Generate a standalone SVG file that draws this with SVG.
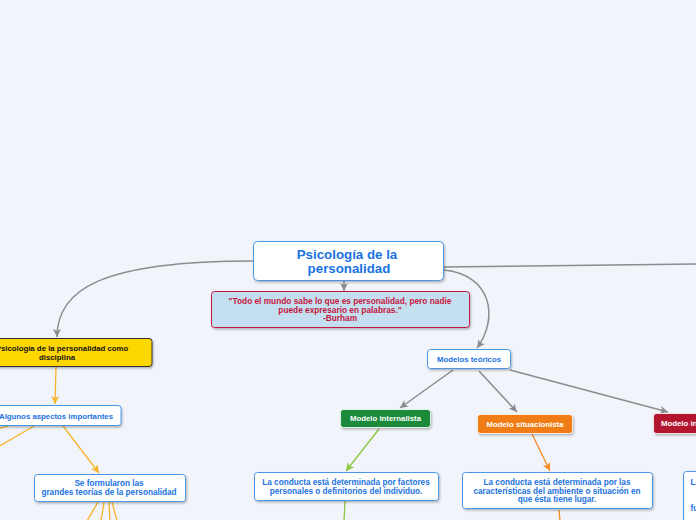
<svg xmlns="http://www.w3.org/2000/svg" width="696" height="520" viewBox="0 0 696 520">
<defs>
<filter id="sh" x="-10%" y="-20%" width="130%" height="160%">
<feDropShadow dx="1" dy="1.5" stdDeviation="0.8" flood-color="#000" flood-opacity="0.28"/>
</filter>
<marker id="ag" markerUnits="userSpaceOnUse" markerWidth="10" markerHeight="10" viewBox="0 0 10 10" refX="9" refY="5" orient="auto"><path d="M1,1 L9,5 L1,9 L3,5 z" fill="#8c8c8c"/></marker>
<marker id="ay" markerUnits="userSpaceOnUse" markerWidth="10" markerHeight="10" viewBox="0 0 10 10" refX="9" refY="5" orient="auto"><path d="M1,1 L9,5 L1,9 L3,5 z" fill="#f7b52c"/></marker>
<marker id="agr" markerUnits="userSpaceOnUse" markerWidth="10" markerHeight="10" viewBox="0 0 10 10" refX="9" refY="5" orient="auto"><path d="M1,1 L9,5 L1,9 L3,5 z" fill="#8cc63f"/></marker>
<marker id="ao" markerUnits="userSpaceOnUse" markerWidth="10" markerHeight="10" viewBox="0 0 10 10" refX="9" refY="5" orient="auto"><path d="M1,1 L9,5 L1,9 L3,5 z" fill="#f58a22"/></marker>
</defs>
<style>
.t{font-family:"Liberation Sans",Arial,sans-serif;font-weight:bold;font-size:7.8px;text-anchor:middle}
.s{font-size:8.2px}
.blue{fill:#1a72df}
.wb{fill:#ffffff;stroke:#4a98e8;stroke-width:1}
.g{fill:none;stroke:#8c8c8c;stroke-width:1.5}
.y{fill:none;stroke:#f7b52c;stroke-width:1.3}
.gr{fill:none;stroke:#8cc63f;stroke-width:1.3}
.o{fill:none;stroke:#f58a22;stroke-width:1.3}
.wt{fill:#ffffff}
</style>
<rect width="696" height="520" fill="#f1f4fb"/>
<g id="connectors">
<path class="g" d="M253,261 C100,261 57,290 57,337" marker-end="url(#ag)"/>
<path class="g" d="M344,281 L344,291" marker-end="url(#ag)"/>
<path class="g" d="M444,270 C492,275 499,318 477,348" marker-end="url(#ag)"/>
<path class="g" d="M444,267 C550,266 650,265 700,264"/>
<path class="g" d="M453,370 L400,408" marker-end="url(#ag)"/>
<path class="g" d="M479,371 L517,412" marker-end="url(#ag)"/>
<path class="g" d="M510,370 L668,412" marker-end="url(#ag)"/>
<path class="y" d="M56,367 L55,404" marker-end="url(#ay)"/>
<path class="y" d="M63,426 L99,473" marker-end="url(#ay)"/>
<path class="y" d="M34,426 L-2,447"/>
<path class="y" d="M8,426 L-2,429"/>
<path class="y" d="M98,502 L87,521"/>
<path class="y" d="M104,502 L101,521"/>
<path class="y" d="M109,502 L110,521"/>
<path class="y" d="M112,502 L117,521"/>
<path class="gr" d="M379,429 L346,471" marker-end="url(#agr)"/>
<path class="gr" d="M345,501 L344,521"/>
<path class="o" d="M532,434 L550,471" marker-end="url(#ao)"/>
<path class="o" d="M559,510 L560,521"/>
</g>
<g id="root">
<rect class="wb" x="253.5" y="241.5" width="190" height="39" rx="4" filter="url(#sh)"/>
<text class="t blue" x="347" y="259" style="font-size:13.3px">Psicología de la</text>
<text class="t blue" x="349" y="273" style="font-size:13.3px">personalidad</text>
</g>
<g id="quote">
<rect x="211.5" y="291.5" width="258" height="36" rx="3" fill="#c4dff0" stroke="#c41740" stroke-width="1" filter="url(#sh)"/>
<text class="t" x="340" y="304" fill="#c41740" style="font-size:8.3px">"Todo el mundo sabe lo que es personalidad, pero nadie</text>
<text class="t" x="340" y="312.5" fill="#c41740" style="font-size:8.3px">puede expresario en palabras."</text>
<text class="t" x="340" y="321" fill="#c41740" style="font-size:8.3px">-Burham</text>
</g>
<g id="disciplina">
<rect x="-32" y="338.5" width="184" height="28" rx="3" fill="#ffd700" stroke="#333" stroke-width="1" filter="url(#sh)"/>
<text class="t" x="62" y="351" fill="#111">Psicología de la personalidad como</text>
<text class="t" x="57" y="359.5" fill="#111">disciplina</text>
</g>
<g id="aspectos">
<rect class="wb" x="-10" y="405.5" width="131" height="20" rx="3" filter="url(#sh)"/>
<text class="t blue" x="56" y="418.5">Algunos aspectos importantes</text>
</g>
<g id="teorias">
<rect class="wb" x="34.5" y="474.5" width="151" height="27" rx="3" filter="url(#sh)"/>
<text class="t blue s" x="109" y="486">Se formularon las</text>
<text class="t blue s" x="109" y="495">grandes teorías de la personalidad</text>
</g>
<g id="modelos">
<rect class="wb" x="427.5" y="349.5" width="83" height="19" rx="3" filter="url(#sh)"/>
<text class="t blue" x="469" y="362">Modelos teóricos</text>
</g>
<g id="internalista">
<rect x="340.5" y="409.5" width="90" height="18" rx="3" fill="#1e8a3a" stroke="#fff" stroke-width="0.8" filter="url(#sh)"/>
<text class="t wt" x="385.5" y="421">Modelo internalista</text>
</g>
<g id="situacionista">
<rect x="477.5" y="414.5" width="95" height="19" rx="3" fill="#f07c12" stroke="#fff" stroke-width="0.8" filter="url(#sh)"/>
<text class="t wt" x="525" y="426.5">Modelo situacionista</text>
</g>
<g id="interaccionista">
<rect x="653.5" y="413.5" width="70" height="20" rx="3" fill="#b3122e" stroke="#fff" stroke-width="0.8" filter="url(#sh)"/>
<text class="t wt" x="661" y="426" style="text-anchor:start">Modelo interaccionista</text>
</g>
<g id="desc-internalista">
<rect class="wb" x="254.5" y="472.5" width="184" height="28" rx="3" filter="url(#sh)"/>
<text class="t blue s" x="346" y="485">La conducta está determinada por factores</text>
<text class="t blue s" x="346" y="493.5">personales o definitorios del individuo.</text>
</g>
<g id="desc-situacionista">
<rect class="wb" x="462.5" y="472.5" width="190" height="36" rx="3" filter="url(#sh)"/>
<text class="t blue s" x="557" y="485">La conducta está determinada por las</text>
<text class="t blue s" x="557" y="493.5">características del ambiente o situación en</text>
<text class="t blue s" x="557" y="502">que ésta tiene lugar.</text>
</g>
<g id="desc-interaccionista">
<rect class="wb" x="683.5" y="471.5" width="40" height="60" rx="3" filter="url(#sh)"/>
<text class="t blue s" x="690.5" y="485" style="text-anchor:start">La</text>
<text class="t blue s" x="690.5" y="511" style="text-anchor:start">fu</text>
</g>
</svg>
